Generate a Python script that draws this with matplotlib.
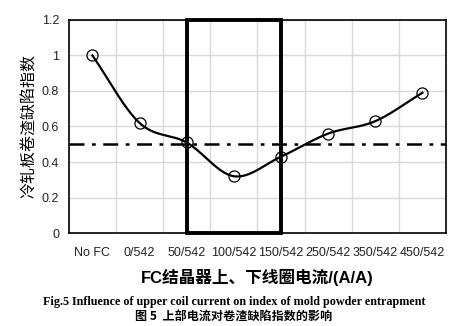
import numpy as np
import matplotlib.pyplot as plt
from matplotlib.patches import Rectangle

categories = ['No FC', '0/542', '50/542', '100/542', '150/542', '250/542', '350/542', '450/542']
index_values = [1.0, 0.62, 0.51, 0.32, 0.43, 0.56, 0.63, 0.79]
threshold = 0.5


def smooth_curve(x, y, steps=30):
    # Catmull-Rom style curve through the points, like a spreadsheet "smooth line"
    x = np.asarray(x, float)
    y = np.asarray(y, float)
    px = np.concatenate([[2 * x[0] - x[1]], x, [2 * x[-1] - x[-2]]])
    py = np.concatenate([[2 * y[0] - y[1]], y, [2 * y[-1] - y[-2]]])
    xs, ys = [], []
    for i in range(1, len(px) - 2):
        t = np.linspace(0, 1, steps)
        for p, out in ((px, xs), (py, ys)):
            p0, p1, p2, p3 = p[i - 1], p[i], p[i + 1], p[i + 2]
            out.extend(0.5 * (2 * p1 + (-p0 + p2) * t
                              + (2 * p0 - 5 * p1 + 4 * p2 - p3) * t ** 2
                              + (-p0 + 3 * p1 - 3 * p2 + p3) * t ** 3))
    return np.array(xs), np.array(ys)


fig = plt.figure(figsize=(4.68, 3.26), dpi=100)
ax = fig.add_axes([0.147, 0.285, 0.806, 0.654])

pos = np.arange(len(categories))
sx, sy = smooth_curve(pos, index_values)
ax.plot(sx, sy, color='black', lw=1.6, zorder=3)
ax.plot(pos, index_values, 'o', ms=8, mfc='none', mec='black', mew=0.9, zorder=4)

ax.axhline(threshold, color='black', lw=1.8, ls=(0, (6, 3, 1.5, 3)), zorder=2)
ax.add_patch(Rectangle((2, 0), 2, 1.2, fill=False, ec='black', lw=2.8, zorder=5, clip_on=False))

ax.set_xlim(-0.5, len(categories) - 0.5)
ax.set_ylim(0, 1.2)
ax.set_yticks(np.arange(0, 1.21, 0.2))
ax.set_yticklabels(['0', '0.2', '0.4', '0.6', '0.8', '1', '1.2'])
ax.set_xticks(pos)
ax.set_xticklabels(categories)
ax.set_xticks(np.arange(0.5, len(categories) - 0.5, 1), minor=True)
ax.grid(True, which='major', axis='y', color='#d9d9d9', lw=1)
ax.grid(True, which='minor', axis='x', color='#d9d9d9', lw=1)
ax.tick_params(which='both', length=0)
ax.tick_params(axis='y', labelsize=9, colors='#222222', pad=7)
ax.tick_params(axis='x', labelsize=9, colors='#222222', pad=10)
for lab in ax.get_xticklabels() + ax.get_yticklabels():
    lab.set_family('Liberation Sans')
for s in ax.spines.values():
    s.set_color('black')
    s.set_linewidth(1.2)

ax.set_ylabel('冷轧板卷渣缺陷指数', family=['Noto Sans CJK SC', 'DejaVu Sans'], fontsize=11.5, labelpad=3)
ax.set_xlabel('FC结晶器上、下线圈电流/(A/A)', family=['Liberation Sans', 'Noto Sans CJK SC'],
              fontsize=12, fontweight='bold', labelpad=7)

fig.text(0.50, 0.073, 'Fig.5 Influence of upper coil current on index of mold powder entrapment',
         ha='center', va='center', family='Liberation Serif', fontweight='bold', fontsize=8.7)
fig.text(0.50, 0.030, '图 5  上部电流对卷渣缺陷指数的影响',
         ha='center', va='center', family=['Noto Sans CJK SC', 'DejaVu Sans'], fontweight='bold', fontsize=8.7)

fig.savefig('out.png', dpi=100)
